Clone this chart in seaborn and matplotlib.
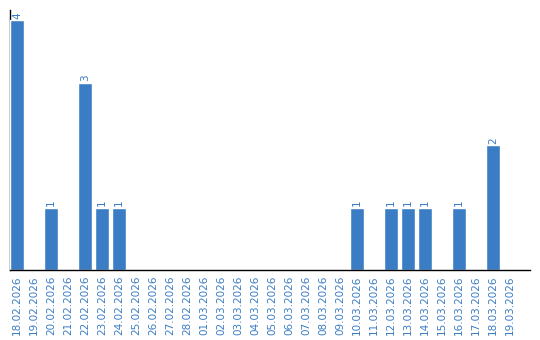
import matplotlib
matplotlib.use("Agg")
import matplotlib.pyplot as plt
import seaborn as sns
import pandas as pd

dates = ["18.02.2026", "19.02.2026", "20.02.2026", "21.02.2026", "22.02.2026",
         "23.02.2026", "24.02.2026", "25.02.2026", "26.02.2026", "27.02.2026",
         "28.02.2026", "01.03.2026", "02.03.2026", "03.03.2026", "04.03.2026",
         "05.03.2026", "06.03.2026", "07.03.2026", "08.03.2026", "09.03.2026",
         "10.03.2026", "11.03.2026", "12.03.2026", "13.03.2026", "14.03.2026",
         "15.03.2026", "16.03.2026", "17.03.2026", "18.03.2026", "19.03.2026"]
counts = [4, 0, 1, 0, 3, 1, 1, 0, 0, 0,
          0, 0, 0, 0, 0, 0, 0, 0, 0, 0,
          1, 0, 1, 1, 1, 0, 1, 0, 2, 0]

df = pd.DataFrame({"date": dates, "count": counts})

sns.set_style("white")
plt.rcParams['font.family'] = ['DejaVu Sans']

blue = "#3b7dc4"
fig = plt.figure(figsize=(5.4, 3.4), dpi=100)
ax = fig.add_axes([10/540, 70/340, 520/540, 260/340])
sns.barplot(data=df, x="date", y="count", color=blue, width=0.82,
            saturation=1, ax=ax, order=dates)

for i, v in enumerate(counts):
    if v > 0:
        ax.text(i, v + 0.02, str(v), rotation=90, ha="center", va="bottom",
                color=blue, fontsize=7.5)

ax.set_xlim(-0.41, 30.18)
ax.set_ylim(0, 4.16)
ax.set_xlabel("")
ax.set_ylabel("")
ax.set_yticks([])
ax.tick_params(axis="x", rotation=90, labelsize=7.5, colors=blue, length=0, pad=4)
for s in ["top", "right"]:
    ax.spines[s].set_visible(False)
for s in ["left", "bottom"]:
    ax.spines[s].set_color("black")
    ax.spines[s].set_linewidth(1)
ax.spines["left"].set_zorder(0)

fig.savefig("out.png", dpi=100)
